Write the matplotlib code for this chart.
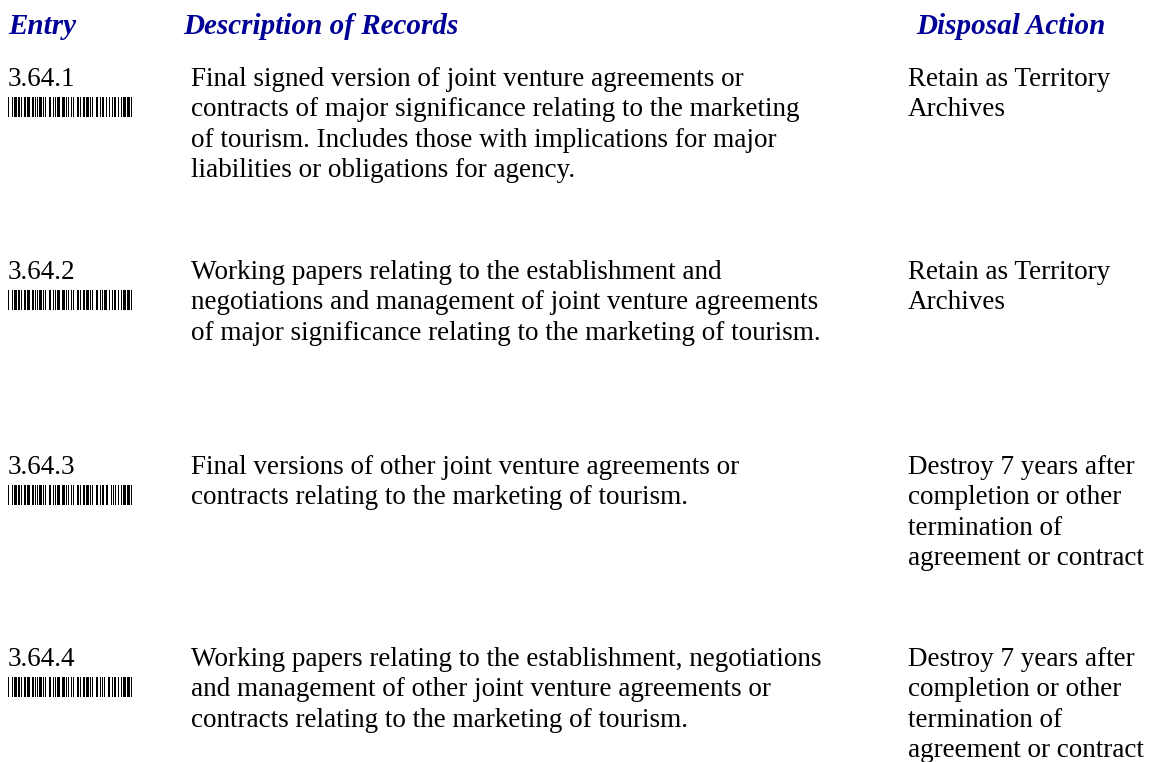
"""Records disposal schedule page — entry / description / disposal action, with barcodes"""

import matplotlib
matplotlib.use("Agg")
import matplotlib.pyplot as plt

# ====== 数据 ======
headers = ["Entry", "Description of Records", "Disposal Action"]

entries = ["3.64.1", "3.64.2", "3.64.3", "3.64.4"]

descriptions = [
    ["Final signed version of joint venture agreements or",
     "contracts of major significance relating to the marketing",
     "of tourism. Includes those with implications for major",
     "liabilities or obligations for agency."],
    ["Working papers relating to the establishment and",
     "negotiations and management of joint venture agreements",
     "of major significance relating to the marketing of tourism."],
    ["Final versions of other joint venture agreements or",
     "contracts relating to the marketing of tourism."],
    ["Working papers relating to the establishment, negotiations",
     "and management of other joint venture agreements or",
     "contracts relating to the marketing of tourism."],
]

disposals = [
    ["Retain as Territory", "Archives"],
    ["Retain as Territory", "Archives"],
    ["Destroy 7 years after", "completion or other", "termination of",
     "agreement or contract"],
    ["Destroy 7 years after", "completion or other", "termination of",
     "agreement or contract"],
]

# Code 39 表（n=窄, w=宽；条/空交替）
CODE39 = {
    "0": "nnnwwnwnn", "1": "wnnwnnnnw", "2": "nnwwnnnnw", "3": "wnwwnnnnn",
    "4": "nnnwwnnnw", "5": "wnnwwnnnn", "6": "nnwwwnnnn", "7": "nnnwnnwnw",
    "8": "wnnwnnwnn", "9": "nnwwnnwnn", ".": "wnnnnwwnn", "*": "nwnnwnwnn",
}

# ====== 布局 ======
W, H = 1149, 762
COL_X = [8, 191, 908]
HEAD_X = [8, 183, 916]
HEAD_Y = 34
ROW_Y = [86, 279, 474, 666]
LINE_H = 30.3
FS = 19.5
HEAD_FS = 21
NAVY = "#000096"


def barcode_segments(text, x0, width):
    """Code 39 -> [(x, w), ...] 条的位置（像素）"""
    seq = []
    for ch in "*" + text + "*":
        seq.extend(CODE39[ch])
        seq.append("n")  # 字符间隔
    seq = seq[:-1]
    mods = [1 if s == "n" else 2.2 for s in seq]
    unit = width / sum(mods)
    segs, x = [], x0
    for i, m in enumerate(mods):
        if i % 2 == 0:
            segs.append((x, m * unit))
        x += m * unit
    return segs


fig = plt.figure(figsize=(W / 100, H / 100), dpi=100)
ax = fig.add_axes([0, 0, 1, 1])
ax.set_xlim(0, W)
ax.set_ylim(H, 0)
ax.axis("off")

serif = ["Liberation Serif", "DejaVu Serif"]

for hx, h in zip(HEAD_X, headers):
    ax.text(hx, HEAD_Y, h, family=serif, fontsize=HEAD_FS, fontweight="bold",
            fontstyle="italic", color=NAVY, va="baseline", ha="left")

for y0, entry, desc, disp in zip(ROW_Y, entries, descriptions, disposals):
    ax.text(COL_X[0], y0, entry, family=serif, fontsize=FS, va="baseline")
    ax.broken_barh(barcode_segments(entry, COL_X[0], 124), (y0 + 11, 20),
                   facecolors="black", linewidth=0)
    for i, line in enumerate(desc):
        ax.text(COL_X[1], y0 + i * LINE_H, line, family=serif, fontsize=FS,
                va="baseline")
    for i, line in enumerate(disp):
        ax.text(COL_X[2], y0 + i * LINE_H, line, family=serif, fontsize=FS,
                va="baseline")

fig.savefig("out.png", dpi=100, facecolor="white")
plt.close(fig)
